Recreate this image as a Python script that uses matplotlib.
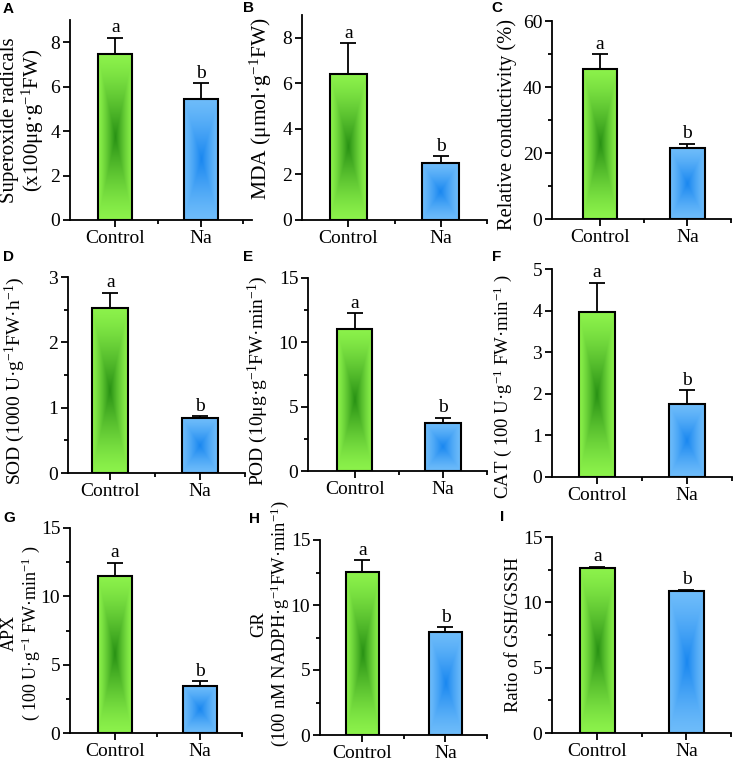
import matplotlib
matplotlib.use("Agg")
import matplotlib.pyplot as plt
import numpy as np

plt.rcParams['font.family'] = ['Liberation Serif', 'DejaVu Serif']
plt.rcParams['mathtext.fontset'] = 'custom'
plt.rcParams['mathtext.rm'] = 'Liberation Serif'
plt.rcParams['mathtext.it'] = 'Liberation Serif:italic'

groups = ['Control', 'Na']
panel_letters = ['A', 'B', 'C', 'D', 'E', 'F', 'G', 'H', 'I']

# means and upper error (SD)
means = [[7.45, 5.46], [6.43, 2.50], [45.5, 21.5],
         [2.52, 0.84], [11.05, 3.74], [3.96, 1.75],
         [11.5, 3.45], [12.56, 7.95], [12.6, 10.85]]
errs = [[0.75, 0.70], [1.32, 0.29], [4.5, 1.3],
        [0.24, 0.03], [1.22, 0.39], [0.71, 0.34],
        [0.95, 0.32], [0.90, 0.33], [0.13, 0.12]]
sig = [['a', 'b']] * 9

ylabels = ['Superoxide radicals\n(x100μg·g$^{-1}$FW)',
           'MDA (μmol·g$^{-1}$FW)',
           'Relative conductivity (%)',
           'SOD (1000 U·g$^{-1}$FW·h$^{-1}$)',
           'POD (10μg·g$^{-1}$FW·min$^{-1}$)',
           'CAT ( 100 U·g$^{-1}$ FW·min$^{-1}$ )',
           'APX\n( 100 U·g$^{-1}$ FW·min$^{-1}$ )',
           'GR\n(100 nM NADPH·g$^{-1}$FW·min$^{-1}$)',
           'Ratio of GSH/GSSH']
label_size = [15, 15.5, 14.8, 14, 14, 13.5, 13, 13.3, 13.4]
ymax = [9, 9, 60, 3, 15, 5, 15, 15, 15]
ystep = [2, 2, 20, 1, 5, 1, 5, 5, 5]
has_minor = [False, False, True, True, True, False, True, True, True]

# axes boxes in pixels: left, top, right, bottom ; xlim left/right
boxes = [(70, 20, 252, 220), (302, 15, 487, 220), (552, 21, 731, 219),
         (68, 277, 245, 473), (308, 278, 487, 471), (552, 269, 732, 477),
         (70, 528, 242, 733), (320, 540, 487, 735), (552, 537, 731, 733)]
xlims = [(-0.53, 1.6), (-0.5, 1.5), (-0.55, 1.5),
         (-0.47, 1.5), (-0.53, 1.5), (-0.5, 1.5),
         (-0.53, 1.5), (-0.51, 1.5), (-0.51, 1.5)]
# centre of each y label, pixels
label_xy = [(21, 120), (261, 109), (507, 125), (15, 381), (258, 381), (503, 387),
            (20, 633), (269, 624), (513, 635)]
letter_pos = [(3, 9), (243, 8), (491, 8), (3, 257), (243, 257), (492, 257),
              (3, 518), (249, 519), (500, 517)]

W, H = 738, 763
light = [np.array([140, 242, 75]) / 255, np.array([110, 188, 250]) / 255]
dark = [np.array([40, 145, 20]) / 255, np.array([25, 135, 240]) / 255]
bw = 0.4


def gradient(c_light, c_dark, n=200):
    yy, xx = np.mgrid[-1:1:n * 1j, -1:1:n * 1j]
    t = np.maximum(np.abs(xx), np.abs(yy))
    w = (1 - t) ** 1.3
    img = c_light[None, None, :] + (c_dark - c_light)[None, None, :] * w[..., None]
    return np.clip(img, 0, 1)


fig = plt.figure(figsize=(W / 100, H / 100), dpi=100)

for i in range(9):
    l, t, r, b = boxes[i]
    ax = fig.add_axes([l / W, 1 - b / H, (r - l) / W, (b - t) / H])
    x = np.arange(len(groups))
    for j in range(2):
        ax.imshow(gradient(light[j], dark[j]), extent=[x[j] - bw / 2, x[j] + bw / 2, 0, means[i][j]],
                  aspect='auto', interpolation='bilinear', zorder=1)
    ax.bar(x, means[i], width=bw, fill=False, edgecolor='black', linewidth=1.5, zorder=2)
    ax.errorbar(x, means[i], yerr=[[0, 0], errs[i]], fmt='none', ecolor='black',
                elinewidth=1.3, capsize=6, capthick=1.3, zorder=3)
    for j in range(2):
        ax.annotate(sig[i][j], (x[j], means[i][j] + errs[i][j]), xytext=(0, 1),
                    textcoords='offset points', ha='center', va='bottom', fontsize=14)
    ax.set_xlim(*xlims[i])
    ax.set_ylim(0, ymax[i])
    ax.set_xticks(x)
    ax.set_xticklabels(groups)
    ax.set_xticks([0.5, 1.5], minor=True)
    ax.set_yticks(np.arange(0, ymax[i] + 0.01, ystep[i]))
    if has_minor[i]:
        ax.set_yticks(np.arange(ystep[i] / 2, ymax[i], ystep[i]), minor=True)
    ax.spines['top'].set_visible(False)
    ax.spines['right'].set_visible(False)
    for s in ['left', 'bottom']:
        ax.spines[s].set_linewidth(1.3)
    ax.tick_params(which='major', length=5, width=1.3, labelsize=14, pad=2)
    ax.tick_params(which='minor', length=3, width=1.3)

    # y label, one text per line so the line boxes stay tight
    lines = ylabels[i].split('\n')
    pitch = label_size[i] * 1.15 * 100 / 72
    for k, line in enumerate(lines):
        cx = label_xy[i][0] + (k - (len(lines) - 1) / 2) * pitch
        fig.text(cx / W, 1 - label_xy[i][1] / H, line, fontsize=label_size[i],
                 rotation=90, ha='center', va='center')
    fig.text(letter_pos[i][0] / W, 1 - letter_pos[i][1] / H, panel_letters[i],
             family='Liberation Sans', weight='bold', fontsize=11, ha='left', va='center')

fig.savefig('out.png', dpi=100)
